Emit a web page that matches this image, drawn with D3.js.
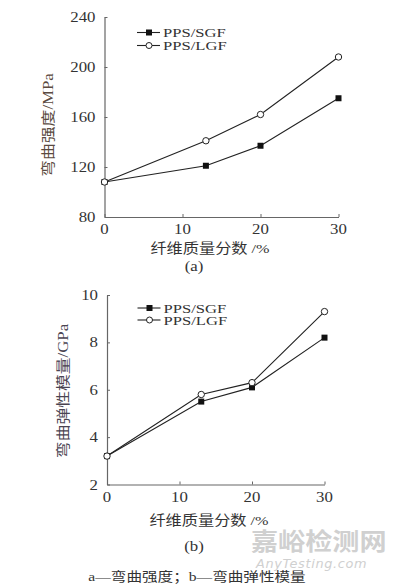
<!DOCTYPE html>
<html>
<head>
<meta charset="utf-8">
<script src="https://cdn.jsdelivr.net/npm/d3@7"></script>
<style>
  body { margin: 0; background: #fff; }
  svg { display: block; }
</style>
</head>
<body>
<svg id="chart" width="400" height="584"></svg>
<script>
/********************** DATA *************************/
const fiberContent = [0, 13, 20, 30];          // 纤维质量分数 /%
const seriesNames = ["PPS/SGF", "PPS/LGF"];

// (a) flexural strength, MPa
const strengthSGF = [108, 121, 137, 175];
const strengthLGF = [108, 141, 162, 208];
const strengthTicks = [80, 120, 160, 200, 240];

// (b) flexural modulus, GPa
const modulusSGF = [3.2, 5.5, 6.1, 8.2];
const modulusLGF = [3.2, 5.8, 6.3, 9.3];
const modulusTicks = [2, 4, 6, 8, 10];

const xTicks = [0, 10, 20, 30];

/********************** SETUP *************************/
const svg = d3.select("#chart");
const serif = "'Liberation Serif', 'Times New Roman', serif";
const cjk = "'Liberation Serif', 'Noto Sans CJK SC', serif";
const textColor = "#333";
const axisColor = "#666";
const stretch = 1.2; // source glyphs are a little wider than they are tall

// text helper: everything in the source looks horizontally stretched
function addText(parent, x, y, str, opts = {}) {
    let rot = opts.rotate ? ` rotate(${opts.rotate})` : "";
    return parent.append("text")
        .attr("transform", `translate(${x},${y})${rot} scale(${opts.sx || stretch},1)`)
        .attr("text-anchor", opts.anchor || "middle")
        .style("font-family", opts.font || serif)
        .style("font-size", (opts.size || 14) + "px")
        .style("font-style", opts.italic ? "italic" : "normal")
        .style("font-weight", opts.bold ? "bold" : "normal")
        .style("letter-spacing", opts.spacing || "0px")
        .attr("fill", opts.color || textColor)
        .text(str);
}

function drawPanel(p) {
    const x = d3.scaleLinear().domain([0, 30]).range([p.left, p.right]);
    const y = d3.scaleLinear().domain(p.yDomain).range([p.bottom, p.top]);

    // Axes: ticks point inward, labels drawn separately
    const yAxis = svg.append("g")
        .attr("transform", `translate(${p.left},0)`)
        .call(d3.axisRight(y).tickValues(p.yTicks).tickSize(3).tickSizeOuter(0).tickFormat(""));
    const xAxis = svg.append("g")
        .attr("transform", `translate(0,${p.bottom})`)
        .call(d3.axisTop(x).tickValues(xTicks).tickSize(3).tickSizeOuter(0).tickFormat(""));
    [xAxis, yAxis].forEach(a => {
        a.select(".domain").attr("stroke", axisColor).attr("stroke-width", 1.2);
        a.selectAll(".tick line").attr("stroke", axisColor).attr("stroke-width", 1);
    });

    p.yTicks.forEach(t => addText(svg, p.left - 9, y(t) + 5, t, { anchor: "end" }));
    xTicks.forEach(t => addText(svg, x(t), p.bottom + 17, t));

    // Lines and markers, SGF first so the open circle sits on top at 0
    const line = d3.line().x((d, i) => x(fiberContent[i])).y(d => y(d));
    [p.sgf, p.lgf].forEach((vals, k) => {
        svg.append("path").datum(vals)
            .attr("d", line).attr("fill", "none")
            .attr("stroke", "#222").attr("stroke-width", 1.1);
    });
    svg.selectAll(null).data(p.sgf).enter().append("rect")
        .attr("x", (d, i) => x(fiberContent[i]) - 3)
        .attr("y", d => y(d) - 3)
        .attr("width", 6).attr("height", 6)
        .attr("fill", "#111");
    svg.selectAll(null).data(p.lgf).enter().append("circle")
        .attr("cx", (d, i) => x(fiberContent[i]))
        .attr("cy", d => y(d))
        .attr("r", 3.2)
        .attr("fill", "#fff").attr("stroke", "#222").attr("stroke-width", 1);

    // Legend
    seriesNames.forEach((name, k) => {
        let ly = p.legendY + k * p.legendGap;
        svg.append("line")
            .attr("x1", p.legendX).attr("x2", p.legendX + 23)
            .attr("y1", ly).attr("y2", ly)
            .attr("stroke", "#222").attr("stroke-width", 1.1);
        let mx = p.legendX + 12;
        if (k === 0) {
            svg.append("rect").attr("x", mx - 3).attr("y", ly - 3)
                .attr("width", 6).attr("height", 6).attr("fill", "#111");
        } else {
            svg.append("circle").attr("cx", mx).attr("cy", ly).attr("r", 3)
                .attr("fill", "#fff").attr("stroke", "#222");
        }
        addText(svg, p.legendX + 26, ly + 4.5, name,
            { anchor: "start", size: p.legendSize, sx: 16.6 / p.legendSize });
    });

    // Axis titles
    addText(svg, p.yLabelX, p.yLabelY, p.yLabel,
        { rotate: -90, font: cjk, size: 14, color: p.yLabelColor });
    addText(svg, p.xLabelX, p.xLabelY, "纤维质量分数 /%", { font: cjk, size: 13.5 });
    addText(svg, 194, p.tagY, p.tag);
}

/********************** PANELS *************************/
drawPanel({
    left: 104.5, right: 338.5, top: 17, bottom: 217,
    yDomain: [80, 240], yTicks: strengthTicks,
    sgf: strengthSGF, lgf: strengthLGF,
    legendX: 137, legendY: 32.5, legendGap: 13, legendSize: 12.5,
    yLabel: "弯曲强度/MPa", yLabelX: 53, yLabelY: 125, yLabelColor: "#5a4a40",
    xLabelX: 210, xLabelY: 253, tag: "(a)", tagY: 271
});

drawPanel({
    left: 107, right: 324.5, top: 295, bottom: 484.5,
    yDomain: [2, 10], yTicks: modulusTicks,
    sgf: modulusSGF, lgf: modulusLGF,
    legendX: 137.5, legendY: 308, legendGap: 12, legendSize: 11.5,
    yLabel: "弯曲弹性模量/GPa", yLabelX: 68, yLabelY: 391, yLabelColor: "#4a4452",
    xLabelX: 209, xLabelY: 525, tag: "(b)", tagY: 551
});

// Watermark (light, behind the caption)
addText(svg, 251, 550, "嘉峪检测网",
    { anchor: "start", font: "'Noto Sans CJK SC', sans-serif", size: 24, sx: 1.13, color: "#d0d0d0", bold: true });
addText(svg, 256, 567.5, "AnyTesting.com",
    { anchor: "start", font: "'DejaVu Sans', sans-serif", size: 11.5, sx: 1.12, italic: true, color: "#d0d0d0", spacing: "0.6px" });

// Figure caption
addText(svg, 197, 581, "a—弯曲强度；b—弯曲弹性模量", { font: cjk, size: 13 });
</script>
</body>
</html>
